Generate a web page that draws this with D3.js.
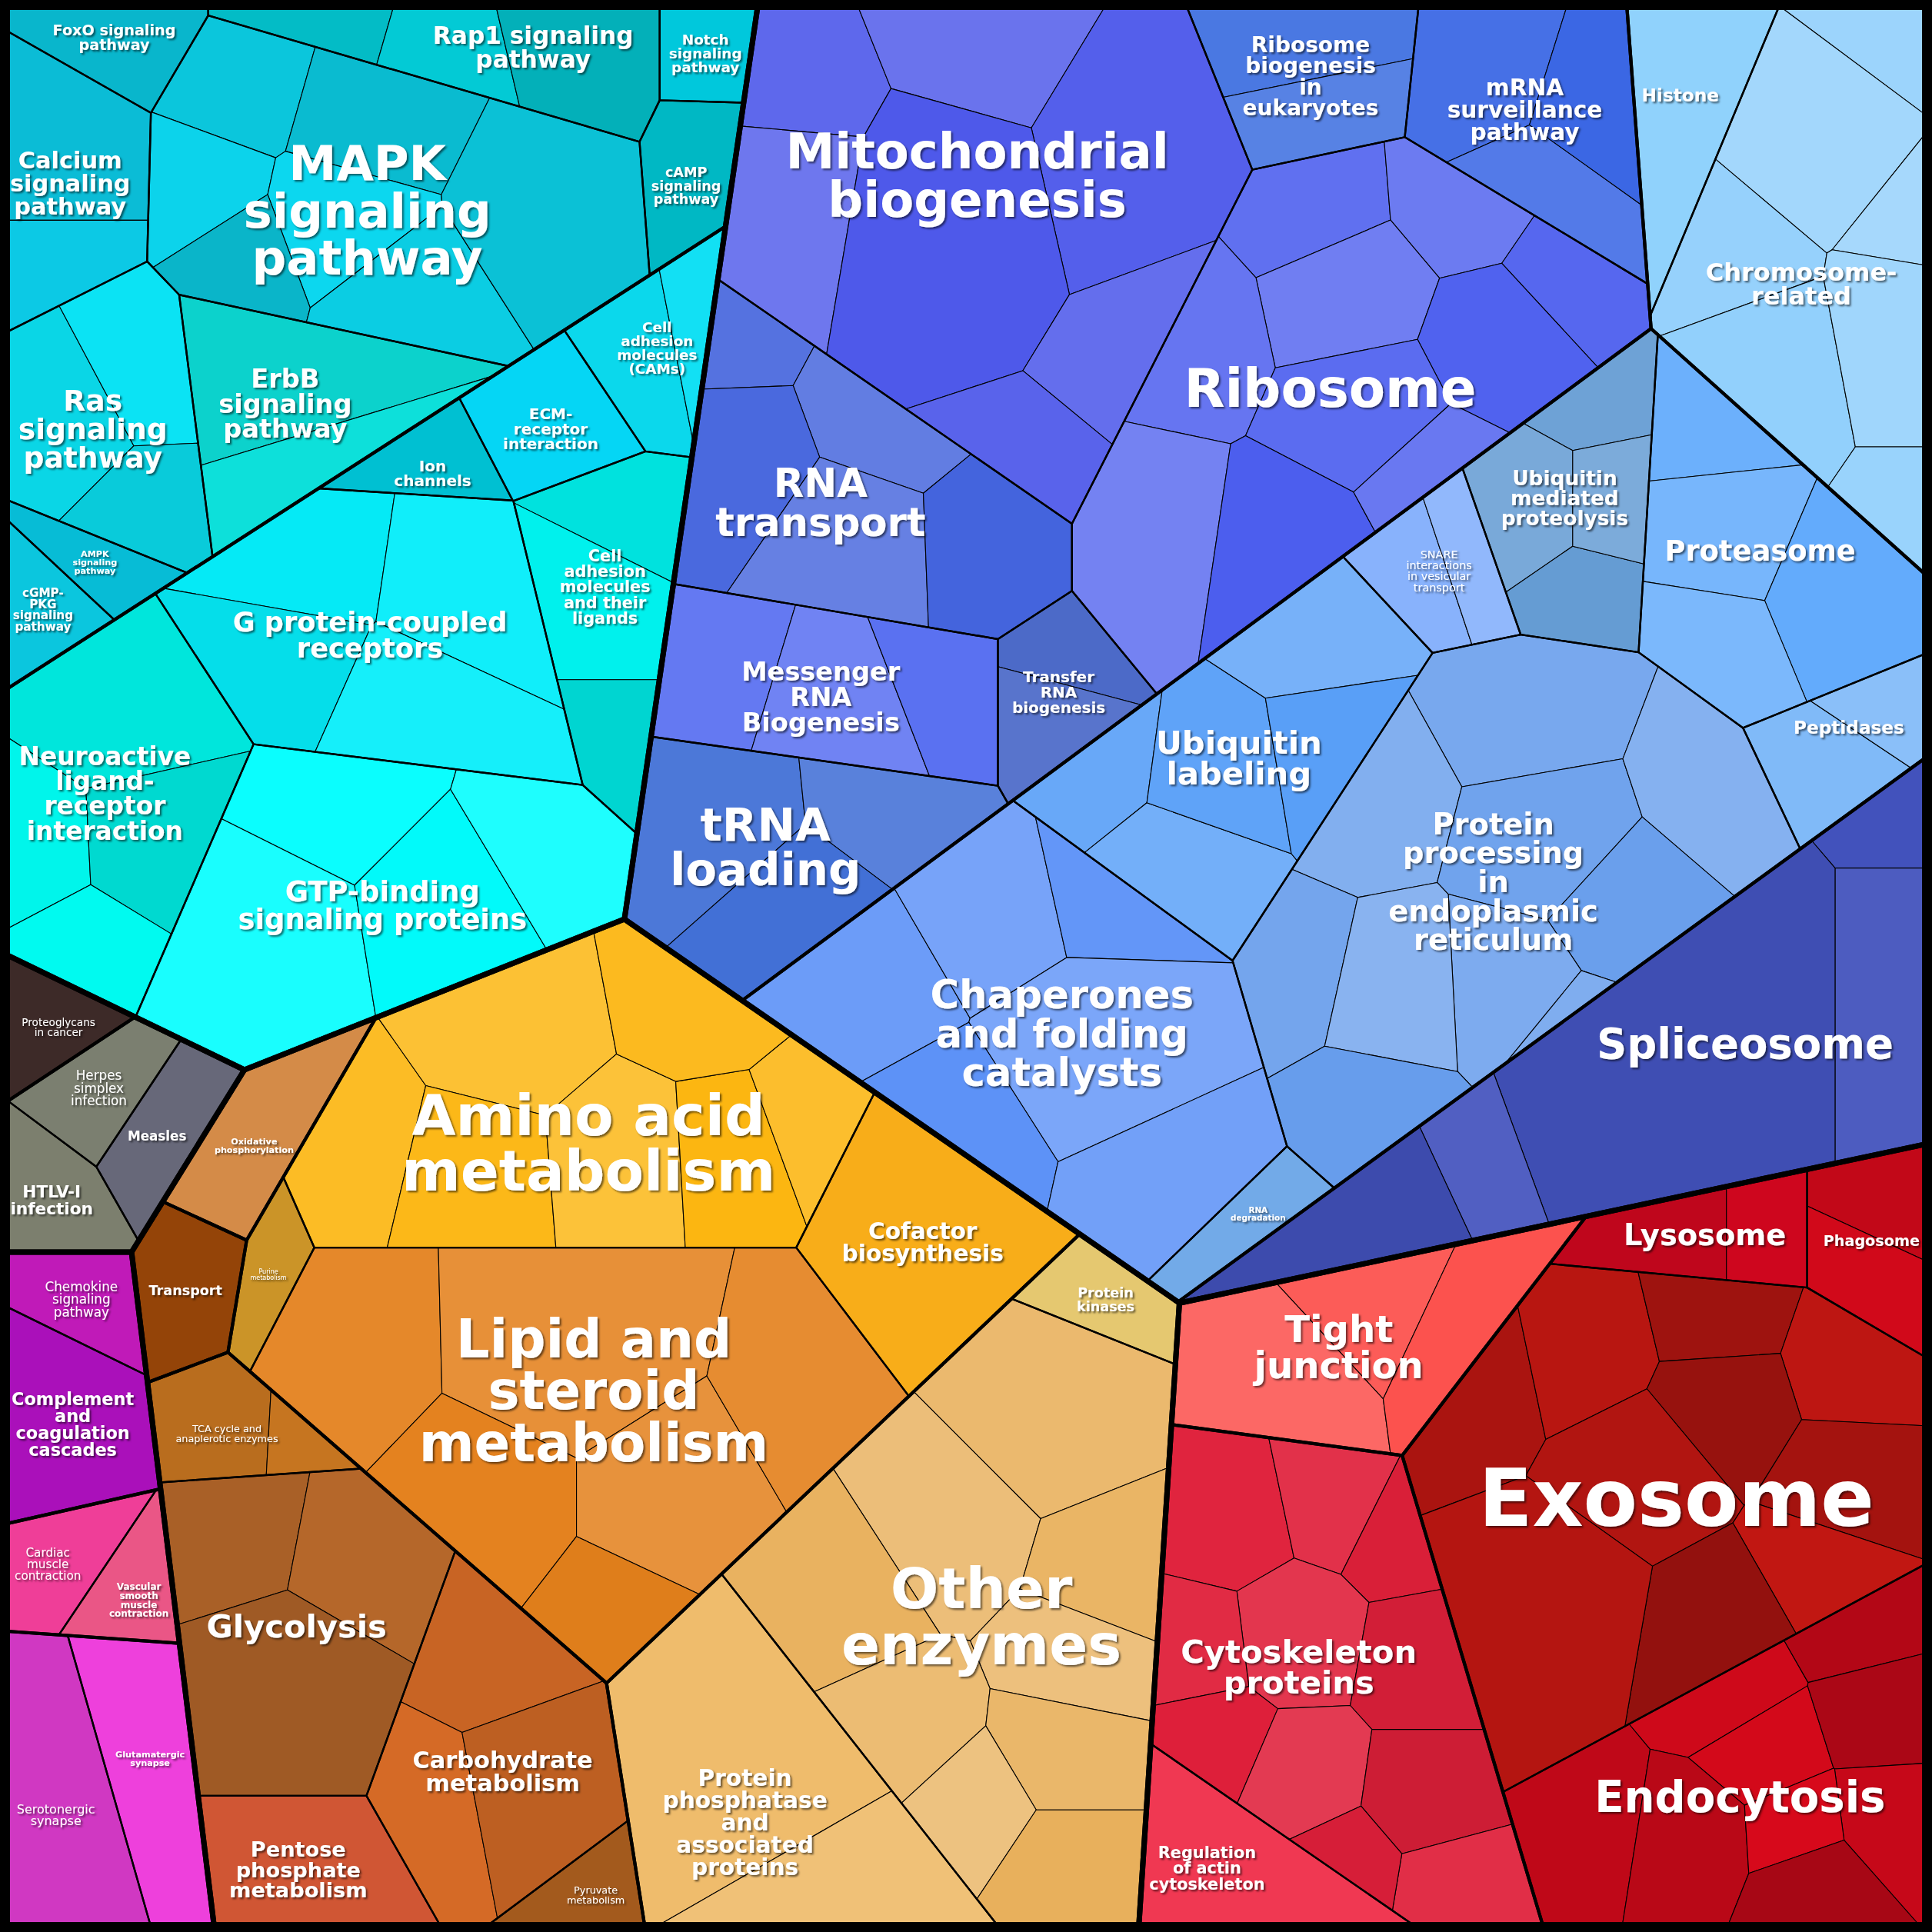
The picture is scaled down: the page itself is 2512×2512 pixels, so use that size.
<!DOCTYPE html>
<html lang="en">
<head>
  <meta charset="UTF-8">
  <title>Proteomap</title>
  <script src="https://cdn.jsdelivr.net/npm/d3@7"></script>
  <style>
    body { margin: 0; background: #000; }
    svg { display: block; }
  </style>
</head>
<body>
<svg id="chart" width="2512" height="2512"></svg>
<script>
// ---- data ----
var groupNames = ["Signaling", "Infectious diseases", "Organismal systems", "Metabolism",
  "Genetic information processing", "Cellular processes"];

var clusters = [
  ["Signal transduction", "Signaling"],
  ["Signaling molecules", "Signaling"],
  ["Cancer", "Infectious diseases"],
  ["Viral infection", "Infectious diseases"],
  ["Immune system", "Organismal systems"],
  ["Circulatory system", "Organismal systems"],
  ["Nervous system", "Organismal systems"],
  ["Energy metabolism", "Metabolism"],
  ["Membrane transport", "Metabolism"],
  ["Central carbon metabolism", "Metabolism"],
  ["Amino acid, lipid and cofactor", "Metabolism"],
  ["Enzymes", "Metabolism"],
  ["Transcription and translation", "Genetic information processing"],
  ["Chromosome", "Genetic information processing"],
  ["Folding, sorting and degradation", "Genetic information processing"],
  ["Splicing", "Genetic information processing"],
  ["Cell junction", "Cellular processes"],
  ["Cytoskeleton", "Cellular processes"],
  ["Vesicular transport", "Cellular processes"]
];

// [pathway, cluster, value]
var pathways = [
  ["FoxO signaling pathway", "Signal transduction", 8.2],
  ["Calcium signaling pathway", "Signal transduction", 20.8],
  ["Rap1 signaling pathway", "Signal transduction", 21.6],
  ["MAPK signaling pathway", "Signal transduction", 80.1],
  ["Ras signaling pathway", "Signal transduction", 30.2],
  ["AMPK signaling pathway", "Signal transduction", 5.2],
  ["cGMP-PKG signaling pathway", "Signal transduction", 5.9],
  ["ErbB signaling pathway", "Signal transduction", 27.4],
  ["Notch signaling pathway", "Signal transduction", 5.6],
  ["cAMP signaling pathway", "Signal transduction", 8.6],
  ["Cell adhesion molecules (CAMs)", "Signaling molecules", 12.7],
  ["ECM-receptor interaction", "Signaling molecules", 11.3],
  ["Ion channels", "Signaling molecules", 6.3],
  ["Cell adhesion molecules and their ligands", "Signaling molecules", 26.1],
  ["G protein-coupled receptors", "Signaling molecules", 57.6],
  ["Neuroactive ligand-receptor interaction", "Signaling molecules", 45.6],
  ["GTP-binding signaling proteins", "Signaling molecules", 67.3],
  ["Proteoglycans in cancer", "Cancer", 6.1],
  ["Herpes simplex infection", "Viral infection", 7.7],
  ["Measles", "Viral infection", 8.4],
  ["HTLV-I infection", "Viral infection", 8.2],
  ["Chemokine signaling pathway", "Immune system", 7.5],
  ["Complement and coagulation cascades", "Immune system", 15.7],
  ["Cardiac muscle contraction", "Circulatory system", 7.8],
  ["Vascular smooth muscle contraction", "Circulatory system", 6.2],
  ["Serotonergic synapse", "Nervous system", 19.3],
  ["Glutamatergic synapse", "Nervous system", 16.2],
  ["Oxidative phosphorylation", "Energy metabolism", 12.0],
  ["Transport", "Membrane transport", 9.5],
  ["TCA cycle and anaplerotic enzymes", "Central carbon metabolism", 11.0],
  ["Glycolysis", "Central carbon metabolism", 48.7],
  ["Pentose phosphate metabolism", "Central carbon metabolism", 16.6],
  ["Carbohydrate metabolism", "Central carbon metabolism", 39.6],
  ["Pyruvate metabolism", "Central carbon metabolism", 5.3],
  ["Purine metabolism", "Amino acid, lipid and cofactor", 5.3],
  ["Amino acid metabolism", "Amino acid, lipid and cofactor", 89.3],
  ["Lipid and steroid metabolism", "Amino acid, lipid and cofactor", 114.8],
  ["Cofactor biosynthesis", "Amino acid, lipid and cofactor", 28.3],
  ["Protein kinases", "Enzymes", 7.0],
  ["Other enzymes", "Enzymes", 117.8],
  ["Protein phosphatase and associated proteins", "Enzymes", 50.8],
  ["Mitochondrial biogenesis", "Transcription and translation", 124.2],
  ["Ribosome biogenesis in eukaryotes", "Transcription and translation", 18.6],
  ["mRNA surveillance pathway", "Transcription and translation", 29.8],
  ["Ribosome", "Transcription and translation", 110.5],
  ["RNA transport", "Transcription and translation", 54.0],
  ["Messenger RNA Biogenesis", "Transcription and translation", 33.2],
  ["tRNA loading", "Transcription and translation", 38.4],
  ["Transfer RNA biogenesis", "Transcription and translation", 12.7],
  ["Histone", "Chromosome", 15.3],
  ["Chromosome-related", "Chromosome", 66.6],
  ["Ubiquitin mediated proteolysis", "Folding, sorting and degradation", 26.2],
  ["SNARE interactions in vesicular transport", "Folding, sorting and degradation", 11.5],
  ["Proteasome", "Folding, sorting and degradation", 43.7],
  ["Peptidases", "Folding, sorting and degradation", 12.8],
  ["Ubiquitin labeling", "Folding, sorting and degradation", 50.1],
  ["Protein processing in endoplasmic reticulum", "Folding, sorting and degradation", 115.0],
  ["Chaperones and folding catalysts", "Folding, sorting and degradation", 89.6],
  ["RNA degradation", "Folding, sorting and degradation", 6.2],
  ["Spliceosome", "Splicing", 94.5],
  ["Tight junction", "Cell junction", 35.8],
  ["Cytoskeleton proteins", "Cytoskeleton", 83.7],
  ["Regulation of actin cytoskeleton", "Cytoskeleton", 16.2],
  ["Lysosome", "Vesicular transport", 12.8],
  ["Phagosome", "Vesicular transport", 12.7],
  ["Exosome", "Vesicular transport", 122.2],
  ["Endocytosis", "Vesicular transport", 66.2]
];

// ---- styles ----
var colors = {
  "FoxO signaling pathway": "#09b6cc", "Calcium signaling pathway": "#0bbcd6",
  "Rap1 signaling pathway": "#03bcc6", "MAPK signaling pathway": "#0bc6dc",
  "Ras signaling pathway": "#0ad6e6", "AMPK signaling pathway": "#07bcd6",
  "cGMP-PKG signaling pathway": "#0bc6de", "ErbB signaling pathway": "#0cd2cc",
  "Notch signaling pathway": "#00c8dc", "cAMP signaling pathway": "#00b8c4",
  "Cell adhesion molecules (CAMs)": "#0bd8ec", "ECM-receptor interaction": "#05d6f5",
  "Ion channels": "#00c0d2", "Cell adhesion molecules and their ligands": "#00e2de",
  "G protein-coupled receptors": "#05eaf6", "Neuroactive ligand-receptor interaction": "#00e6dc",
  "GTP-binding signaling proteins": "#0afefe",
  "Proteoglycans in cancer": "#3d2a28", "Herpes simplex infection": "#7b7f70",
  "Measles": "#676879", "HTLV-I infection": "#7c7f6e",
  "Chemokine signaling pathway": "#c01ab8", "Complement and coagulation cascades": "#aa10ba",
  "Cardiac muscle contraction": "#ef3e98", "Vascular smooth muscle contraction": "#ea5686",
  "Serotonergic synapse": "#d038c2", "Glutamatergic synapse": "#ee40dc",
  "Oxidative phosphorylation": "#d48b48", "Transport": "#944408",
  "TCA cycle and anaplerotic enzymes": "#b96d1e", "Glycolysis": "#a96027",
  "Pentose phosphate metabolism": "#d05634", "Carbohydrate metabolism": "#c86424",
  "Pyruvate metabolism": "#a35a1d", "Purine metabolism": "#cb9428",
  "Amino acid metabolism": "#fcbc25", "Lipid and steroid metabolism": "#e5882a",
  "Cofactor biosynthesis": "#f8ad19",
  "Protein kinases": "#e5c870", "Other enzymes": "#ebb96e",
  "Protein phosphatase and associated proteins": "#efbc6c",
  "Mitochondrial biogenesis": "#5e68ec", "Ribosome biogenesis in eukaryotes": "#4a78e2",
  "mRNA surveillance pathway": "#4670e6", "Ribosome": "#6070f0", "RNA transport": "#5572e0",
  "Messenger RNA Biogenesis": "#6479f2", "tRNA loading": "#4c78d8",
  "Transfer RNA biogenesis": "#4c6ac8",
  "Histone": "#90d2fc", "Chromosome-related": "#9cd4fc",
  "Ubiquitin mediated proteolysis": "#6ea2d6", "SNARE interactions in vesicular transport": "#88b2fc",
  "Proteasome": "#6cb0fc", "Peptidases": "#80baf8", "Ubiquitin labeling": "#68a8f8",
  "Protein processing in endoplasmic reticulum": "#78a8ee",
  "Chaperones and folding catalysts": "#6c9cf8", "RNA degradation": "#72aae8",
  "Spliceosome": "#4252bc",
  "Tight junction": "#fc5c58", "Lysosome": "#bf061c", "Phagosome": "#c20818",
  "Exosome": "#aa1410", "Cytoskeleton proteins": "#e0243e",
  "Regulation of actin cytoskeleton": "#f03852", "Endocytosis": "#bf0818"
};

// font size in 1568-px reference units
var fontSize = {
  "FoxO signaling pathway": 12, "Calcium signaling pathway": 19, "Rap1 signaling pathway": 19.5,
  "MAPK signaling pathway": 39, "Ras signaling pathway": 23.5, "AMPK signaling pathway": 7,
  "cGMP-PKG signaling pathway": 9.5, "ErbB signaling pathway": 21, "Notch signaling pathway": 11.5,
  "cAMP signaling pathway": 11, "Cell adhesion molecules (CAMs)": 11.5,
  "ECM-receptor interaction": 12.5, "Ion channels": 12.5,
  "Cell adhesion molecules and their ligands": 13, "G protein-coupled receptors": 22,
  "Neuroactive ligand-receptor interaction": 20.5, "GTP-binding signaling proteins": 23,
  "Proteoglycans in cancer": 8.5, "Herpes simplex infection": 10.5, "Measles": 10.5,
  "HTLV-I infection": 13.5, "Chemokine signaling pathway": 10.5,
  "Complement and coagulation cascades": 14, "Cardiac muscle contraction": 9.5,
  "Vascular smooth muscle contraction": 7.5, "Serotonergic synapse": 10, "Glutamatergic synapse": 7,
  "Oxidative phosphorylation": 7, "Transport": 11, "Purine metabolism": 5,
  "TCA cycle and anaplerotic enzymes": 8, "Glycolysis": 26, "Pentose phosphate metabolism": 17,
  "Carbohydrate metabolism": 19, "Pyruvate metabolism": 8, "Amino acid metabolism": 46,
  "Lipid and steroid metabolism": 43, "Cofactor biosynthesis": 18.5, "Protein kinases": 11,
  "Other enzymes": 46, "Protein phosphatase and associated proteins": 18.5,
  "Mitochondrial biogenesis": 40, "Ribosome biogenesis in eukaryotes": 17.5,
  "mRNA surveillance pathway": 18.5, "Ribosome": 43, "RNA transport": 32,
  "Messenger RNA Biogenesis": 21, "tRNA loading": 37, "Transfer RNA biogenesis": 12.5,
  "Histone": 14.5, "Chromosome-related": 20, "Ubiquitin mediated proteolysis": 16.5,
  "SNARE interactions in vesicular transport": 9, "Proteasome": 23, "Peptidases": 14.5,
  "Ubiquitin labeling": 26, "Protein processing in endoplasmic reticulum": 24,
  "Chaperones and folding catalysts": 32, "RNA degradation": 6.5, "Spliceosome": 34,
  "Tight junction": 30, "Lysosome": 24, "Phagosome": 12, "Exosome": 64,
  "Cytoskeleton proteins": 26, "Regulation of actin cytoskeleton": 13, "Endocytosis": 35
};

var labelLines = {
  "FoxO signaling pathway": "FoxO signaling|pathway",
  "Calcium signaling pathway": "Calcium|signaling|pathway",
  "Rap1 signaling pathway": "Rap1 signaling|pathway",
  "MAPK signaling pathway": "MAPK|signaling|pathway",
  "Ras signaling pathway": "Ras|signaling|pathway",
  "AMPK signaling pathway": "AMPK|signaling|pathway",
  "cGMP-PKG signaling pathway": "cGMP-|PKG|signaling|pathway",
  "ErbB signaling pathway": "ErbB|signaling|pathway",
  "Notch signaling pathway": "Notch|signaling|pathway",
  "cAMP signaling pathway": "cAMP|signaling|pathway",
  "Cell adhesion molecules (CAMs)": "Cell|adhesion|molecules|(CAMs)",
  "ECM-receptor interaction": "ECM-|receptor|interaction",
  "Ion channels": "Ion|channels",
  "Cell adhesion molecules and their ligands": "Cell|adhesion|molecules|and their|ligands",
  "G protein-coupled receptors": "G protein-coupled|receptors",
  "Neuroactive ligand-receptor interaction": "Neuroactive|ligand-|receptor|interaction",
  "GTP-binding signaling proteins": "GTP-binding|signaling proteins",
  "Proteoglycans in cancer": "Proteoglycans|in cancer",
  "Herpes simplex infection": "Herpes|simplex|infection",
  "HTLV-I infection": "HTLV-I|infection",
  "Chemokine signaling pathway": "Chemokine|signaling|pathway",
  "Complement and coagulation cascades": "Complement|and|coagulation|cascades",
  "Cardiac muscle contraction": "Cardiac|muscle|contraction",
  "Vascular smooth muscle contraction": "Vascular|smooth|muscle|contraction",
  "Serotonergic synapse": "Serotonergic|synapse",
  "Glutamatergic synapse": "Glutamatergic|synapse",
  "Oxidative phosphorylation": "Oxidative|phosphorylation",
  "Purine metabolism": "Purine|metabolism",
  "TCA cycle and anaplerotic enzymes": "TCA cycle and|anaplerotic enzymes",
  "Pentose phosphate metabolism": "Pentose|phosphate|metabolism",
  "Carbohydrate metabolism": "Carbohydrate|metabolism",
  "Pyruvate metabolism": "Pyruvate|metabolism",
  "Amino acid metabolism": "Amino acid|metabolism",
  "Lipid and steroid metabolism": "Lipid and|steroid|metabolism",
  "Cofactor biosynthesis": "Cofactor|biosynthesis",
  "Protein kinases": "Protein|kinases",
  "Other enzymes": "Other|enzymes",
  "Protein phosphatase and associated proteins": "Protein|phosphatase|and|associated|proteins",
  "Mitochondrial biogenesis": "Mitochondrial|biogenesis",
  "Ribosome biogenesis in eukaryotes": "Ribosome|biogenesis|in|eukaryotes",
  "mRNA surveillance pathway": "mRNA|surveillance|pathway",
  "RNA transport": "RNA|transport",
  "Messenger RNA Biogenesis": "Messenger|RNA|Biogenesis",
  "tRNA loading": "tRNA|loading",
  "Transfer RNA biogenesis": "Transfer|RNA|biogenesis",
  "Chromosome-related": "Chromosome-|related",
  "Ubiquitin mediated proteolysis": "Ubiquitin|mediated|proteolysis",
  "SNARE interactions in vesicular transport": "SNARE|interactions|in vesicular|transport",
  "Ubiquitin labeling": "Ubiquitin|labeling",
  "Protein processing in endoplasmic reticulum": "Protein|processing|in|endoplasmic|reticulum",
  "Chaperones and folding catalysts": "Chaperones|and folding|catalysts",
  "RNA degradation": "RNA|degradation",
  "Tight junction": "Tight|junction",
  "Cytoskeleton proteins": "Cytoskeleton|proteins",
  "Regulation of actin cytoskeleton": "Regulation|of actin|cytoskeleton"
};

var regularWeight = new Set(["Proteoglycans in cancer", "Herpes simplex infection",
  "Cardiac muscle contraction", "Serotonergic synapse", "Chemokine signaling pathway",
  "TCA cycle and anaplerotic enzymes", "Pyruvate metabolism", "Purine metabolism",
  "SNARE interactions in vesicular transport"]);

// label shift from the cell centroid (1568-px units)
var labelNudge = {
  "Mitochondrial biogenesis": [-6, -30], "Spliceosome": [57, -21], "Rap1 signaling pathway": [28, -5],
  "RNA transport": [-25, 5], "Amino acid metabolism": [9, 23], "Lipid and steroid metabolism": [9, -17],
  "Protein phosphatase and associated proteins": [-13, 25], "Chromosome-related": [-16, 20],
  "MAPK signaling pathway": [-14, 8], "Ras signaling pathway": [-14, 7], "ErbB signaling pathway": [-12, -2],
  "Cell adhesion molecules and their ligands": [-3, -18], "G protein-coupled receptors": [-11, 0],
  "Carbohydrate metabolism": [6, 12], "Proteasome": [0, -11], "Peptidases": [5, -16],
  "Histone": [-4, -12], "mRNA surveillance pathway": [-10, -5], "Ubiquitin mediated proteolysis": [-9, -6],
  "RNA degradation": [12, -8], "Other enzymes": [-12, 5], "Cardiac muscle contraction": [-12, 3],
  "Serotonergic synapse": [-4, 13], "Glutamatergic synapse": [0, -9], "Ion channels": [2, 9],
  "cAMP signaling pathway": [-1, 9], "Neuroactive ligand-receptor interaction": [-7, -7],
  "tRNA loading": [-11, -4], "Messenger RNA Biogenesis": [-6, 8], "Oxidative phosphorylation": [-6, 10],
  "Vascular smooth muscle contraction": [5, 10], "Measles": [-7, 4], "Proteoglycans in cancer": [7, 2],
  "Pyruvate metabolism": [7, 4], "Chaperones and folding catalysts": [11, -2],
  "GTP-binding signaling proteins": [6, 8], "ECM-receptor interaction": [2, 7], "HTLV-I infection": [-5, 3],
  "FoxO signaling pathway": [0, -5], "TCA cycle and anaplerotic enzymes": [-4, 5],
  "Pentose phosphate metabolism": [-6, 5], "Exosome": [13, 3], "Cytoskeleton proteins": [-25, -6],
  "Regulation of actin cytoskeleton": [-22, 3], "Tight junction": [-12, 3], "Endocytosis": [-10, 5]
};

// ---- layout hints (1568-px units) ----
// approximate centre of each pathway cell in the reference
var centers = {
  "FoxO signaling pathway": [80, 33], "Calcium signaling pathway": [60, 150],
  "Rap1 signaling pathway": [420, 42], "MAPK signaling pathway": [320, 165],
  "Ras signaling pathway": [85, 340], "AMPK signaling pathway": [70, 452],
  "cGMP-PKG signaling pathway": [36, 495], "ErbB signaling pathway": [243, 329],
  "Notch signaling pathway": [573, 45], "cAMP signaling pathway": [555, 150],
  "Cell adhesion molecules (CAMs)": [535, 295], "ECM-receptor interaction": [443, 342],
  "Ion channels": [351, 376], "Cell adhesion molecules and their ligands": [500, 490],
  "G protein-coupled receptors": [300, 520], "Neuroactive ligand-receptor interaction": [95, 665],
  "GTP-binding signaling proteins": [320, 730],
  "Proteoglycans in cancer": [41, 830], "Herpes simplex infection": [80, 878],
  "Measles": [133, 915], "HTLV-I infection": [50, 968],
  "Chemokine signaling pathway": [62, 1050], "Complement and coagulation cascades": [65, 1160],
  "Cardiac muscle contraction": [45, 1270], "Vascular smooth muscle contraction": [110, 1290],
  "Serotonergic synapse": [55, 1460], "Glutamatergic synapse": [125, 1440],
  "Oxidative phosphorylation": [208, 918], "Transport": [150, 1050],
  "TCA cycle and anaplerotic enzymes": [180, 1160], "Glycolysis": [240, 1320],
  "Pentose phosphate metabolism": [248, 1510], "Carbohydrate metabolism": [415, 1420],
  "Pyruvate metabolism": [477, 1532], "Purine metabolism": [220, 1020],
  "Amino acid metabolism": [470, 910], "Lipid and steroid metabolism": [470, 1150],
  "Cofactor biosynthesis": [742, 1010],
  "Protein kinases": [890, 1050], "Other enzymes": [815, 1300],
  "Protein phosphatase and associated proteins": [605, 1465],
  "Mitochondrial biogenesis": [799, 174], "Ribosome biogenesis in eukaryotes": [1065, 62],
  "mRNA surveillance pathway": [1240, 75], "Ribosome": [1085, 325], "RNA transport": [705, 420],
  "Messenger RNA Biogenesis": [670, 560], "tRNA loading": [640, 700],
  "Transfer RNA biogenesis": [860, 580],
  "Histone": [1365, 90], "Chromosome-related": [1475, 220],
  "Ubiquitin mediated proteolysis": [1275, 430], "SNARE interactions in vesicular transport": [1175, 465],
  "Proteasome": [1440, 440], "Peptidases": [1505, 600], "Ubiquitin labeling": [1030, 600],
  "Protein processing in endoplasmic reticulum": [1230, 730],
  "Chaperones and folding catalysts": [855, 840], "RNA degradation": [1000, 990],
  "Spliceosome": [1358, 868],
  "Tight junction": [1090, 1095], "Lysosome": [1370, 1002], "Phagosome": [1512, 1010],
  "Exosome": [1350, 1218], "Cytoskeleton proteins": [1070, 1340],
  "Regulation of actin cytoskeleton": [1000, 1511], "Endocytosis": [1420, 1470]
};

// power-diagram sites where they differ from the centres (so that borders lean the right way)
var siteHints = {
  "Signaling": [176, 324], "Infectious diseases": [-71, 835], "Organismal systems": [-71, 1277],
  "Metabolism": [525, 1204], "Genetic information processing": [1046, 451],
  "Cellular processes": [1216, 1249],
  "Signal transduction": [179, 233], "Signaling molecules": [385, 553],
  "Cancer": [28, 830], "Viral infection": [88, 921],
  "Immune system": [64, 1124], "Circulatory system": [99, 1279], "Nervous system": [87, 1451],
  "Energy metabolism": [84, 800], "Membrane transport": [11, 959],
  "Central carbon metabolism": [178, 1405], "Amino acid, lipid and cofactor": [497, 1040],
  "Enzymes": [757, 1314],
  "Transcription and translation": [882, 324], "Chromosome": [1494, 278],
  "Folding, sorting and degradation": [1140, 673], "Splicing": [1322, 923],
  "Cell junction": [1101, 1054], "Cytoskeleton": [1059, 1368], "Vesicular transport": [1383, 1271],
  "FoxO signaling pathway": [111, 42], "Calcium signaling pathway": [45, 158],
  "Rap1 signaling pathway": [356, 42], "Ras signaling pathway": [137, 341],
  "AMPK signaling pathway": [92, 452], "cGMP-PKG signaling pathway": [50, 497],
  "ErbB signaling pathway": [286, 322], "Notch signaling pathway": [573, 42],
  "cAMP signaling pathway": [570, 146],
  "Cell adhesion molecules (CAMs)": [538, 243], "ECM-receptor interaction": [447, 304],
  "Ion channels": [309, 376], "Cell adhesion molecules and their ligands": [509, 469],
  "Neuroactive ligand-receptor interaction": [96, 653], "GTP-binding signaling proteins": [274, 730],
  "Measles": [122, 906], "HTLV-I infection": [13, 968],
  "Chemokine signaling pathway": [90, 1045], "Complement and coagulation cascades": [35, 1157],
  "Cardiac muscle contraction": [40, 1255], "Vascular smooth muscle contraction": [110, 1302],
  "TCA cycle and anaplerotic enzymes": [229, 1160], "Pentose phosphate metabolism": [240, 1510],
  "Carbohydrate metabolism": [444, 1394], "Pyruvate metabolism": [541, 1524],
  "Cofactor biosynthesis": [660, 1006], "Protein kinases": [915, 1050],
  "Mitochondrial biogenesis": [799, 160], "Ribosome biogenesis in eukaryotes": [1065, 53],
  "mRNA surveillance pathway": [1274, 75], "Ribosome": [1123, 325], "RNA transport": [685, 325],
  "Messenger RNA Biogenesis": [645, 560], "tRNA loading": [628, 680],
  "Transfer RNA biogenesis": [838, 560],
  "Histone": [1360, 140], "Chromosome-related": [1480, 190],
  "Phagosome": [1477, 1002], "Endocytosis": [1486, 1470],
  "Regulation of actin cytoskeleton": [952, 1511]
};

// sub-cells inside each pathway
var subSeeds = {
  "Calcium signaling pathway": [[60, 122], [60, 238]],
  "Rap1 signaling pathway": [[265, 20], [385, 55], [470, 35]],
  "MAPK signaling pathway": [[200, 65], [165, 160], [305, 95], [280, 185], [200, 215], [330, 250], [455, 170]],
  "Ras signaling pathway": [[45, 340], [120, 300], [125, 420]],
  "ErbB signaling pathway": [[240, 300], [270, 398]],
  "Cell adhesion molecules (CAMs)": [[515, 295], [581, 282]],
  "Cell adhesion molecules and their ligands": [[535, 410], [495, 490], [495, 605]],
  "G protein-coupled receptors": [[215, 455], [385, 480], [200, 540], [330, 598]],
  "Neuroactive ligand-receptor interaction": [[100, 590], [25, 705], [125, 700], [70, 790]],
  "GTP-binding signaling proteins": [[290, 640], [230, 760], [385, 735], [460, 690]],
  "TCA cycle and anaplerotic enzymes": [[165, 1160], [255, 1165]],
  "Glycolysis": [[185, 1228], [300, 1250], [230, 1370]],
  "Carbohydrate metabolism": [[410, 1330], [345, 1460], [450, 1440]],
  "Amino acid metabolism": [[280, 935], [415, 840], [385, 960], [510, 950], [597, 945], [665, 920], [575, 810]],
  "Lipid and steroid metabolism": [[255, 1105], [455, 1100], [390, 1235], [540, 1235], [500, 1320], [685, 1150]],
  "Other enzymes": [[860, 1150], [775, 1235], [910, 1275], [885, 1340], [690, 1290], [740, 1400], [870, 1415], [795, 1460], [870, 1510]],
  "Protein phosphatase and associated proteins": [[590, 1420], [689, 1592]],
  "Mitochondrial biogenesis": [[641, 85], [790, 25], [930, 110], [637, 130], [755, 150], [1000, 300], [860, 470]],
  "Ribosome biogenesis in eukaryotes": [[1060, 35], [1072, 94]],
  "mRNA surveillance pathway": [[1195, 40], [1240, 140], [1290, 70]],
  "Ribosome": [[1070, 175], [1195, 165], [1290, 230], [1100, 245], [1225, 290], [960, 275], [1120, 345], [925, 440], [1060, 460], [1170, 400]],
  "RNA transport": [[600, 270], [740, 345], [605, 395], [700, 460], [830, 455]],
  "Messenger RNA Biogenesis": [[565, 545], [680, 580], [770, 545]],
  "tRNA loading": [[585, 670], [735, 655], [660, 755]],
  "Transfer RNA biogenesis": [[870, 535], [850, 610]],
  "Chromosome-related": [[1515, 30], [1477, 81], [1347, 235], [1614, 191], [1377, 317], [1600, 275], [1600, 470]],
  "Ubiquitin mediated proteolysis": [[1290, 330], [1235, 430], [1290, 510], [1310, 430]],
  "SNARE interactions in vesicular transport": [[1150, 470], [1210, 450]],
  "Proteasome": [[1395, 320], [1405, 415], [1510, 460], [1390, 510]],
  "Peptidases": [[1500, 620], [1540, 560]],
  "Ubiquitin labeling": [[905, 595], [985, 695], [1015, 610], [1090, 495], [1105, 595]],
  "Protein processing in endoplasmic reticulum": [[1255, 585], [1120, 660], [1275, 700], [1425, 650], [1335, 755], [1245, 815], [1060, 800], [1150, 820], [1130, 925], [1300, 860]],
  "Chaperones and folding catalysts": [[690, 790], [810, 720], [900, 700], [895, 855], [770, 935], [950, 975]],
  "Spliceosome": [[1716, 510], [1716, 900], [1260, 900], [1192, 925], [1132, 953]],
  "Tight junction": [[1100, 1060], [1035, 1120], [1185, 1100]],
  "Lysosome": [[1340, 1000], [1435, 1000]],
  "Phagosome": [[1530, 975], [1500, 1040]],
  "Exosome": [[1195, 1115], [1290, 1095], [1395, 1070], [1510, 1110], [1400, 1145], [1340, 1195], [1505, 1210], [1480, 1285], [1410, 1325], [1265, 1300]],
  "Cytoskeleton proteins": [[985, 1215], [1080, 1195], [1130, 1220], [1040, 1310], [1150, 1330], [960, 1320], [975, 1395], [1045, 1425], [1150, 1440], [1170, 1515], [1080, 1500]],
  "Endocytosis": [[1280, 1490], [1400, 1390], [1505, 1330], [1430, 1440], [1525, 1410], [1530, 1490], [1375, 1505], [1455, 1500], [1470, 1543]]
};

var k = 2512 / 1568;
var W = 2512;
var frame = [[9.5, 9.5], [W - 9.5, 9.5], [W - 9.5, W - 9.5], [9.5, W - 9.5]];
var strokeByDepth = {1: 7, 2: 4.2, 3: 2.4, 4: 1.1};

// ---- power diagram (weighted voronoi) helpers ----
function clipHalf(poly, a, b, c) {
  var out = [];
  for (var i = 0; i < poly.length; i++) {
    var p = poly[i], q = poly[(i + 1) % poly.length];
    var fp = a * p[0] + b * p[1] - c, fq = a * q[0] + b * q[1] - c;
    if (fp <= 0) out.push(p);
    if ((fp <= 0) !== (fq <= 0)) {
      var t = fp / (fp - fq);
      out.push([p[0] + t * (q[0] - p[0]), p[1] + t * (q[1] - p[1])]);
    }
  }
  return out;
}

function powerCells(sites, w, bound) {
  return sites.map(function(p, i) {
    var poly = bound;
    for (var j = 0; j < sites.length && poly.length > 2; j++) {
      if (j === i) continue;
      var q = sites[j];
      poly = clipHalf(poly, 2 * (q[0] - p[0]), 2 * (q[1] - p[1]),
        q[0] * q[0] + q[1] * q[1] - p[0] * p[0] - p[1] * p[1] - w[j] + w[i]);
    }
    return poly.length > 2 ? poly : [];
  });
}

function area(poly) { return poly.length > 2 ? Math.abs(d3.polygonArea(poly)) : 0; }

// sites stay fixed, weights adapt until each cell area matches its value
function voronoiMap(bound, items) {
  if (items.length === 1) return [bound.slice()];
  var total = d3.sum(items, function(d) { return d.value; });
  var A = area(bound);
  var target = items.map(function(d) { return A * d.value / total; });
  var sites = items.map(function(d) { return d.site; });
  var w = items.map(function() { return 0; });
  for (var it = 0; it < 900; it++) {
    var areas = powerCells(sites, w, bound).map(area);
    for (var i = 0; i < w.length; i++) w[i] += 0.25 * (target[i] - areas[i]);
  }
  return powerCells(sites, w, bound);
}

function weightedCenter(arr) {
  var s = d3.sum(arr, function(d) { return d.value; });
  return [d3.sum(arr, function(d) { return d.center[0] * d.value; }) / s,
          d3.sum(arr, function(d) { return d.center[1] * d.value; }) / s];
}
function hinted(name, fallback) {
  return siteHints[name] ? siteHints[name].map(function(v) { return v * k; }) : fallback;
}

// ---- hierarchy ----
var root = groupNames.map(function(g) {
  var cl = clusters.filter(function(c) { return c[1] === g; }).map(function(c) {
    var pw = pathways.filter(function(p) { return p[1] === c[0]; }).map(function(p) {
      var ctr = centers[p[0]].map(function(v) { return v * k; });
      return {name: p[0], value: p[2], center: ctr, site: hinted(p[0], ctr)};
    });
    var ctr = weightedCenter(pw);
    return {name: c[0], children: pw, value: d3.sum(pw, function(d) { return d.value; }),
            center: ctr, site: hinted(c[0], ctr)};
  });
  var ctr = weightedCenter(cl);
  return {name: g, children: cl, value: d3.sum(cl, function(d) { return d.value; }),
          center: ctr, site: hinted(g, ctr)};
});

var levels = {1: [], 2: [], 3: [], 4: []};
function place(nodes, bound, depth) {
  var cells = voronoiMap(bound, nodes);
  nodes.forEach(function(n, i) {
    n.poly = cells[i];
    levels[depth].push(n);
    if (n.children) place(n.children, n.poly, depth + 1);
  });
}
place(root, frame, 1);

var shadeSteps = [0, 0.03, -0.025, 0.04, -0.04, 0.015, -0.012, 0.05, -0.05, 0.022, -0.03];
function shade(c, i) {
  var h = d3.hsl(c);
  var f = Math.min(1, (1 - h.l) / 0.4);
  h.l = Math.max(0, Math.min(1, h.l + f * shadeSteps[i % shadeSteps.length]));
  return h.formatHex();
}

// sub-cells: plain voronoi inside each pathway cell, shifted with the pathway
levels[3].forEach(function(n) {
  var sub = subSeeds[n.name];
  if (!sub || n.poly.length < 3) return;
  var c = d3.polygonCentroid(n.poly);
  var dx = c[0] - n.center[0], dy = c[1] - n.center[1];
  var pts = sub.map(function(p) { return [p[0] * k + dx, p[1] * k + dy]; });
  var cells = powerCells(pts, pts.map(function() { return 0; }), n.poly);
  cells.forEach(function(poly, i) {
    levels[4].push({poly: poly, color: shade(colors[n.name], i)});
  });
});

// ---- drawing ----
var svg = d3.select("#chart");
function pathOf(p) {
  return p.length > 2 ? "M" + p.map(function(q) { return q[0].toFixed(2) + "," + q[1].toFixed(2); }).join("L") + "Z" : "";
}

var defs = svg.append("defs");
defs.append("filter").attr("id", "shadow")
  .attr("x", "-10%").attr("y", "-10%").attr("width", "130%").attr("height", "130%")
  .append("feDropShadow")
  .attr("dx", 2.2).attr("dy", 2.2).attr("stdDeviation", 0.8)
  .attr("flood-color", "#000").attr("flood-opacity", 0.55);

svg.append("rect").attr("width", W).attr("height", W).attr("fill", "#000");

svg.append("g").selectAll("path")
  .data(levels[3])
  .join("path")
  .attr("d", function(d) { return pathOf(d.poly); })
  .attr("fill", function(d) { return colors[d.name]; });

svg.append("g").selectAll("path")
  .data(levels[4])
  .join("path")
  .attr("d", function(d) { return pathOf(d.poly); })
  .attr("fill", function(d) { return d.color; })
  .attr("stroke", "#000")
  .attr("stroke-width", strokeByDepth[4])
  .attr("stroke-linejoin", "round");

[3, 2, 1].forEach(function(depth) {
  svg.append("g").selectAll("path")
    .data(levels[depth])
    .join("path")
    .attr("d", function(d) { return pathOf(d.poly); })
    .attr("fill", "none")
    .attr("stroke", "#000")
    .attr("stroke-width", strokeByDepth[depth])
    .attr("stroke-linejoin", "round");
});

// labels
var labels = svg.append("g")
  .attr("font-family", "'DejaVu Sans', Verdana, sans-serif")
  .attr("text-anchor", "middle")
  .attr("fill", "#fff")
  .attr("filter", "url(#shadow)");

labels.selectAll("text")
  .data(levels[3].filter(function(n) { return n.poly.length > 2; }))
  .join("text")
  .each(function(n) {
    var lines = (labelLines[n.name] || n.name).split("|");
    var fs = fontSize[n.name] * k;
    var lh = fs * 0.98;
    var c = d3.polygonCentroid(n.poly);
    var nudge = labelNudge[n.name] || [0, 0];
    var x = c[0] + nudge[0] * k;
    var y0 = c[1] + nudge[1] * k - (lines.length - 1) * lh / 2;
    var t = d3.select(this)
      .attr("font-size", fs.toFixed(1))
      .attr("font-weight", regularWeight.has(n.name) ? "normal" : "bold")
      .attr("transform", "translate(" + x.toFixed(1) + "," + y0.toFixed(1) + ")");
    t.selectAll("tspan")
      .data(lines)
      .join("tspan")
      .attr("x", 0)
      .attr("y", function(d, i) { return (i * lh).toFixed(1); })
      .attr("dy", "0.36em")
      .text(function(d) { return d; });
  });
</script>
</body>
</html>
